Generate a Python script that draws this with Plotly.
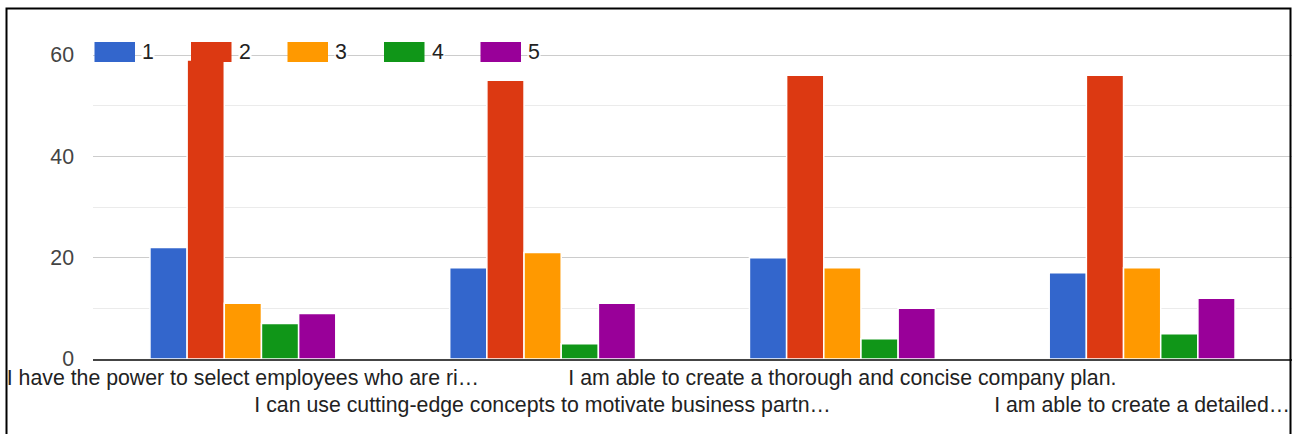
import plotly.graph_objects as go

# Survey statements (long ones are cut off with an ellipsis)
categories = [
    "I have the power to select employees who are ri…",
    "I can use cutting-edge concepts to motivate business partn…",
    "I am able to create a thorough and concise company plan.",
    "I am able to create a detailed…",
]

# Number of responses per rating
series_names = ["1", "2", "3", "4", "5"]
counts_1 = [22, 18, 20, 17]
counts_2 = [59, 55, 56, 56]
counts_3 = [11, 21, 18, 18]
counts_4 = [7, 3, 4, 5]
counts_5 = [9, 11, 10, 12]
series_values = [counts_1, counts_2, counts_3, counts_4, counts_5]

colors = ["#3366cc", "#dc3912", "#ff9900", "#109618", "#990099"]
y_ticks = [0, 20, 40, 60]

W, H = 1292, 434
L, R, T, B = 93, 0, 53, 75
PW, PH = W - L - R, H - T - B
FONT = "Arial, 'Liberation Sans', sans-serif"
FS = 21.3


def px_x(x):
    return (x - L) / PW


def px_y(y):
    return (H - B - y) / PH


fig = go.Figure()
for name, vals, col in zip(series_names, series_values, colors):
    fig.add_bar(
        x=categories,
        y=vals,
        name=name,
        marker=dict(color=col, line=dict(color="white", width=1.5)),
        showlegend=False,
    )

# Staggered category labels: odd ones drop to a second row
tick_text = [c if i % 2 == 0 else "<br>" + c for i, c in enumerate(categories)]

shapes = []
annotations = []

# Legend row drawn across the top gridline
for i, (name, col) in enumerate(zip(series_names, colors)):
    left = 94.5 + i * 96.5
    shapes.append(dict(
        type="rect", xref="paper", yref="paper",
        x0=px_x(left), x1=px_x(left + 40.5),
        y0=px_y(62), y1=px_y(42),
        fillcolor=col, line=dict(width=0), layer="above",
    ))
    annotations.append(dict(
        xref="paper", yref="paper",
        x=px_x(left + 46.5), y=px_y(52),
        xanchor="left", yanchor="middle",
        text=name, showarrow=False,
        font=dict(family=FONT, size=FS, color="#222222"),
        bgcolor="white", borderpad=0,
    ))

# Outer frame
shapes.append(dict(
    type="rect", xref="paper", yref="paper",
    x0=px_x(6.5), x1=px_x(1290.5), y0=px_y(437), y1=px_y(8.5),
    line=dict(color="black", width=2), fillcolor="rgba(0,0,0,0)", layer="above",
))

fig.update_layout(
    width=W, height=H, autosize=False,
    margin=dict(l=L, r=R, t=T, b=B, pad=0),
    paper_bgcolor="white", plot_bgcolor="white",
    barmode="group", bargap=0.38, bargroupgap=0,
    font=dict(family=FONT, size=FS, color="#444444"),
    shapes=shapes, annotations=annotations,
    showlegend=False,
)

fig.update_xaxes(
    type="category",
    range=[-0.5, 3.5],
    tickmode="array", tickvals=categories, ticktext=tick_text,
    tickangle=0,
    showgrid=False, ticks="",
    showline=True, linecolor="#444444", linewidth=2,
    tickfont=dict(family=FONT, size=FS, color="#222222"),
    ticklabelstandoff=-2,
)

# Range runs a touch past 60 so the top gridline stays inside the plot
fig.update_yaxes(
    range=[0, 60.4],
    tickmode="array", tickvals=y_ticks,
    showgrid=True, gridcolor="#cccccc", gridwidth=1,
    minor=dict(dtick=10, tick0=0, showgrid=True, gridcolor="#ebebeb", gridwidth=1),
    zeroline=False, showline=False, ticks="",
    tickfont=dict(family=FONT, size=FS, color="#444444"),
    ticklabelstandoff=18,
)

fig.write_html("out.html", config={"displayModeBar": False})
